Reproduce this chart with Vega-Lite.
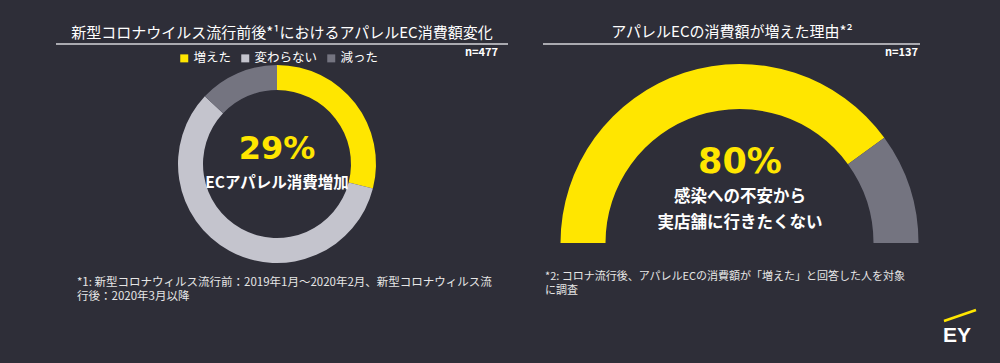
{
  "$schema": "https://vega.github.io/schema/vega-lite/v6.json",
  "width": 1000,
  "height": 363,
  "autosize": {"type": "fit", "contains": "padding"},
  "padding": 0,
  "background": "#2e2e38",
  "config": {"view": {"stroke": null}, "font": "Noto Sans CJK JP"},
  "data": {"values": [{}]},
  "layer": [
    {
      "data": {"values": [
        {"category": "増えた", "share": 29},
        {"category": "変わらない", "share": 58},
        {"category": "減った", "share": 13}
      ]},
      "mark": {"type": "arc", "x": 277, "y": 164, "outerRadius": 99, "innerRadius": 74},
      "encoding": {
        "theta": {"field": "share", "type": "quantitative", "stack": true},
        "color": {
          "field": "category", "type": "nominal",
          "scale": {"domain": ["増えた", "変わらない", "減った"], "range": ["#ffe600", "#c4c4cd", "#747480"]},
          "legend": {
            "orient": "none", "legendX": 178, "legendY": 52, "direction": "horizontal", "title": null,
            "symbolType": "square", "symbolSize": 64, "symbolStrokeWidth": 0,
            "labelColor": "#ffffff", "labelFontSize": 12.5, "labelFont": "Noto Sans CJK JP",
            "columnPadding": 7, "labelOffset": 3
          }
        }
      }
    },
    {
      "data": {"values": [
        {"reason": "感染への不安から実店舗に行きたくない", "share": 80},
        {"reason": "その他", "share": 20}
      ]},
      "mark": {"type": "arc", "x": 739.5, "y": 243, "outerRadius": 179, "innerRadius": 134},
      "encoding": {
        "theta": {"field": "share", "type": "quantitative", "stack": true, "scale": {"range": [-1.5708, 1.5708]}},
        "color": {
          "field": "reason", "type": "nominal",
          "scale": {"domain": ["感染への不安から実店舗に行きたくない", "その他"], "range": ["#ffe600", "#747480"]},
          "legend": null
        },
        "order": {"field": "share", "sort": "descending"}
      }
    },
    {"mark": {"type": "rule", "color": "#d4d4d8", "strokeWidth": 1.5}, "encoding": {"x": {"value": 56}, "x2": {"value": 508}, "y": {"value": 44}, "y2": {"value": 44}}},
    {"mark": {"type": "rule", "color": "#d4d4d8", "strokeWidth": 1.5}, "encoding": {"x": {"value": 543}, "x2": {"value": 920}, "y": {"value": 44}, "y2": {"value": 44}}},
    {"mark": {"type": "rule", "color": "#ffe600", "strokeWidth": 2.5}, "encoding": {"x": {"value": 944}, "x2": {"value": 976}, "y": {"value": 321}, "y2": {"value": 310}}},
    {"mark": {"type": "text", "x": 282, "y": 33, "align": "center", "baseline": "middle", "fontSize": 15, "color": "#ffffff", "text": "新型コロナウイルス流行前後*¹におけるアパレルEC消費額変化"}},
    {"mark": {"type": "text", "x": 732, "y": 32, "align": "center", "baseline": "middle", "fontSize": 15, "color": "#ffffff", "text": "アパレルECの消費額が増えた理由*²"}},
    {"mark": {"type": "text", "x": 498, "y": 53, "align": "right", "baseline": "middle", "fontSize": 11, "fontWeight": "bold", "color": "#ffffff", "text": "n=477"}},
    {"mark": {"type": "text", "x": 918, "y": 53, "align": "right", "baseline": "middle", "fontSize": 11, "fontWeight": "bold", "color": "#ffffff", "text": "n=137"}},
    {"mark": {"type": "text", "x": 277, "y": 149, "align": "center", "baseline": "middle", "fontSize": 32, "fontWeight": "bold", "font": "DejaVu Sans", "color": "#ffe600", "text": "29%"}},
    {"mark": {"type": "text", "x": 277, "y": 183, "align": "center", "baseline": "middle", "fontSize": 15.5, "fontWeight": "bold", "color": "#ffffff", "text": "ECアパレル消費増加"}},
    {"mark": {"type": "text", "x": 740, "y": 162, "align": "center", "baseline": "middle", "fontSize": 35, "fontWeight": "bold", "font": "DejaVu Sans", "color": "#ffe600", "text": "80%"}},
    {"mark": {"type": "text", "x": 740, "y": 197, "align": "center", "baseline": "middle", "fontSize": 16.5, "fontWeight": "bold", "lineHeight": 26, "color": "#ffffff", "text": ["感染への不安から", "実店舗に行きたくない"]}},
    {"mark": {"type": "text", "x": 77, "y": 283, "align": "left", "baseline": "middle", "fontSize": 11.5, "lineHeight": 14, "color": "#e6e6e6", "text": ["*1: 新型コロナウィルス流行前：2019年1月～2020年2月、新型コロナウィルス流", "行後：2020年3月以降"]}},
    {"mark": {"type": "text", "x": 545, "y": 277, "align": "left", "baseline": "middle", "fontSize": 11, "lineHeight": 14, "color": "#e6e6e6", "text": ["*2: コロナ流行後、アパレルECの消費額が「増えた」と回答した人を対象", "に調査"]}},
    {"mark": {"type": "text", "x": 957, "y": 342, "align": "center", "baseline": "alphabetic", "fontSize": 21, "fontWeight": "bold", "font": "Liberation Sans", "color": "#ffffff", "text": "EY"}}
  ],
  "resolve": {"scale": {"color": "independent", "theta": "independent"}, "legend": {"color": "independent"}}
}
